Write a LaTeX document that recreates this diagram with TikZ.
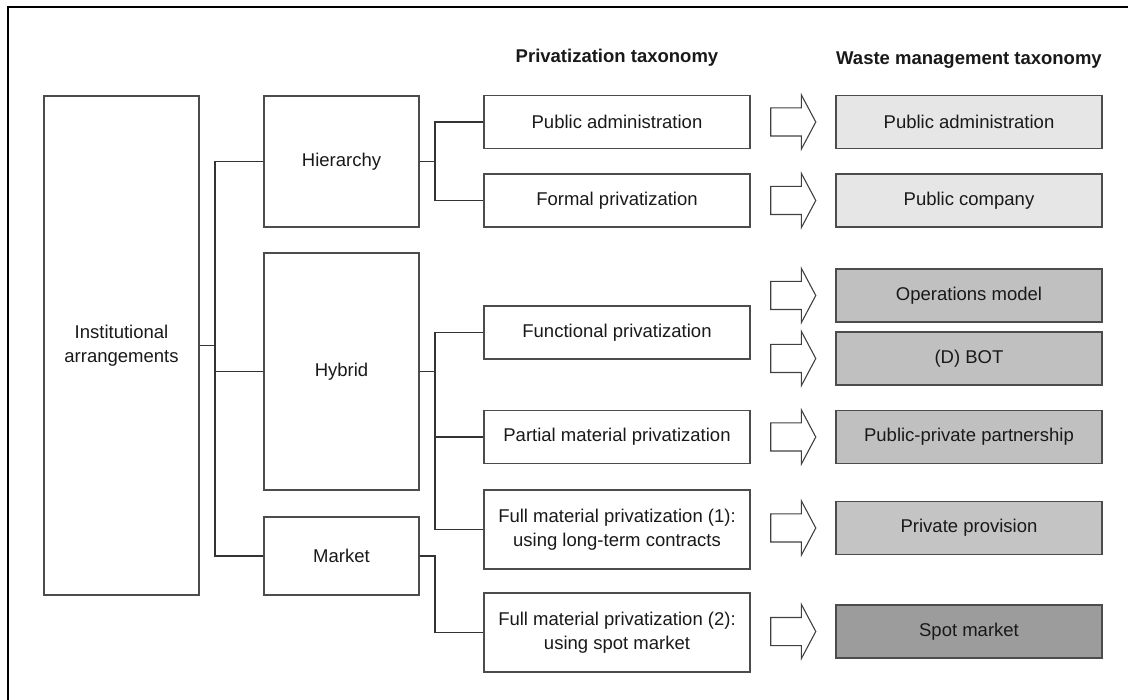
\documentclass[tikz,border=0pt]{standalone}
\usepackage{fontspec}
\setmainfont{Liberation Sans}
\usetikzlibrary{positioning, shapes.arrows}
\definecolor{wmlight}{HTML}{E6E6E6}
\definecolor{wmmid}{HTML}{C0C0C0}
\definecolor{wmpriv}{HTML}{C4C4C4}
\definecolor{wmdark}{HTML}{9C9C9C}

\begin{document}
\begin{tikzpicture}[x=1pt, y=-1pt,
    every node/.style={font=\fontsize{18.5}{24}\selectfont, text=black!90},
    lvl/.style={rectangle, draw=black!70, line width=1.2pt, minimum width=155pt, align=center, inner sep=0pt},
    pbox/.style={rectangle, draw=black!70, line width=1.2pt, minimum width=266pt, minimum height=53pt, align=center, inner sep=0pt},
    wbox/.style={pbox, fill=#1},
    blockarrow/.style={single arrow, draw=black!75, line width=1.1pt, minimum height=45pt, minimum width=53pt,
                       single arrow head extend=13pt, single arrow head indent=0pt, single arrow tip angle=124,
                       inner xsep=0pt, inner ysep=13.5pt},
    link/.style={draw=black!80, line width=1.2pt}
]
\useasboundingbox (0,0) rectangle (1128,700);
\draw [line width=2.7pt] (8,705) -- (8,7) -- (1135,7);
% column headings
\node (ptitle) [font=\fontsize{18.5}{24}\selectfont\bfseries] at (617,58) {Privatization taxonomy};
\node (wtitle) [font=\fontsize{18.5}{24}\selectfont\bfseries] at (969,60) {Waste management taxonomy};
% institutional levels
\node (inst) [lvl, minimum height=499pt] at (121.5,345.5) {Institutional\\arrangements};
\node (hier) [lvl, minimum height=131pt] at (341.5,161.5) {Hierarchy};
\node (hyb)  [lvl, minimum height=237pt] at (341.5,371.5) {Hybrid};
\node (mkt)  [lvl, minimum height=78pt]  at (341.5,556) {Market};
% privatization taxonomy
\node (pa)    [pbox] at (617,122) {Public administration};
\node (fp)    [pbox] at (617,200.5) {Formal privatization};
\node (func)  [pbox] at (617,332.5) {Functional privatization};
\node (part)  [pbox] at (617,437) {Partial material privatization};
\node (full1) [pbox, minimum height=79pt] at (617,529.5) {Full material privatization (1):\\using long-term contracts};
\node (full2) [pbox, minimum height=79pt] at (617,632.5) {Full material privatization (2):\\using spot market};
% waste management taxonomy
\node (wpa)  [wbox=wmlight] at (969,122) {Public administration};
\node (wpc)  [wbox=wmlight] at (969,200.5) {Public company};
\node (wop)  [wbox=wmmid]   at (969,295.5) {Operations model};
\node (wbot) [wbox=wmmid]   at (969,358.5) {(D) BOT};
\node (wppp) [wbox=wmmid]   at (969,437) {Public-private partnership};
\node (wpp)  [wbox=wmpriv]  at (969,528) {Private provision};
\node (wsm)  [wbox=wmdark]  at (969,631.5) {Spot market};
% block arrows
\node (a1) [blockarrow, left=19pt of wpa]  {};
\node (a2) [blockarrow, left=19pt of wpc]  {};
\node (a3) [blockarrow, left=19pt of wop]  {};
\node (a4) [blockarrow, left=19pt of wbot] {};
\node (a5) [blockarrow, left=19pt of wppp] {};
\node (a6) [blockarrow, left=19pt of wpp]  {};
\node (a7) [blockarrow, left=19pt of wsm]  {};
% tree connectors
\coordinate (jA) at (215,345.5);
\coordinate (jB) at (435,161.5);
\coordinate (jC) at (435,371.5);
\coordinate (jD) at (435,556);
\draw [link] (inst.east) -- (jA);
\draw [link] (hier.west) -| (jA) |- (mkt.west);
\draw [link] (jA |- hyb.west) -- (hyb.west);
\draw [link] (hier.east) -- (jB);
\draw [link] (pa.west) -| (jB) |- (fp.west);
\draw [link] (hyb.east) -- (jC);
\draw [link] (func.west) -| (jC) |- (full1.west);
\draw [link] (jC |- part.west) -- (part.west);
\draw [link] (mkt.east) -- (jD) |- (full2.west);
\end{tikzpicture}
\end{document}
